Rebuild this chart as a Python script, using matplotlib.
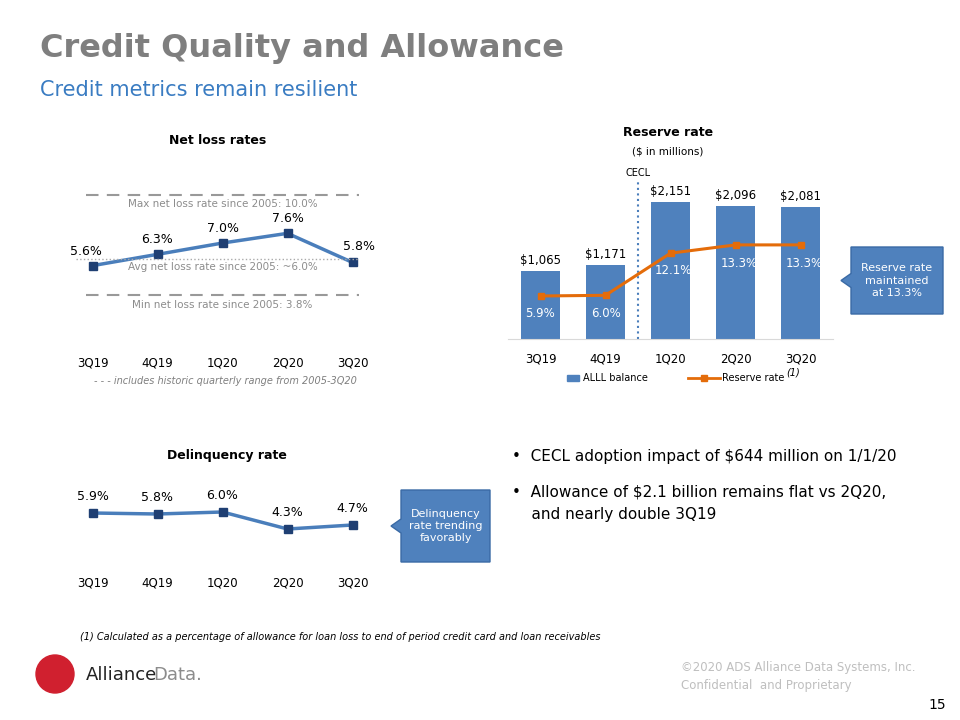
import matplotlib
matplotlib.use("Agg")
import matplotlib.pyplot as plt
from matplotlib.patches import Polygon, Ellipse

quarters = ["3Q19", "4Q19", "1Q20", "2Q20", "3Q20"]
net_loss = [5.6, 6.3, 7.0, 7.6, 5.8]
nl_max, nl_avg, nl_min = 10.0, 6.0, 3.8
alll = [1065, 1171, 2151, 2096, 2081]
reserve_rate = [5.9, 6.0, 12.1, 13.3, 13.3]
delinq = [5.9, 5.8, 6.0, 4.3, 4.7]

W, H = 960, 720
fig = plt.figure(figsize=(9.6, 7.2), dpi=100)
plt.rcParams['font.family'] = ['DejaVu Sans']

def ax_px(x0, y0, x1, y1):
    return fig.add_axes([x0 / W, 1 - y1 / H, (x1 - x0) / W, (y1 - y0) / H])

def ftxt(x, y, s, **kw):
    fig.text(x / W, 1 - y / H, s, **kw)

BLUE = "#4a7ebb"; DARK = "#1f3f73"; ORANGE = "#e46c0a"; BAR = "#4f81bd"

ftxt(40, 48, "Credit Quality and Allowance", fontsize=23, weight="bold", color="#7f7f7f", va="center")
ftxt(40, 90, "Credit metrics remain resilient", fontsize=15, color="#3a7cc2", va="center")

# Net loss
ax = ax_px(60, 180, 385, 340)
x = range(5)
ax.plot(x, net_loss, color=BLUE, lw=2.5, marker="s", ms=6, mfc=DARK, mec=DARK)
ax.axhline(nl_max, xmin=0.08, xmax=0.92, color="#999999", ls=(0, (6, 4)), lw=1.5)
ax.axhline(nl_min, xmin=0.08, xmax=0.92, color="#999999", ls=(0, (6, 4)), lw=1.5)
ax.axhline(nl_avg, xmin=0.05, xmax=0.92, color="#aaaaaa", ls=":", lw=1)
ax.text(2, nl_max - 0.3, "Max net loss rate since 2005: 10.0%", ha="center", va="top", fontsize=7.5, color="#8c8c8c")
ax.text(2, nl_avg - 0.15, "Avg net loss rate since 2005: ~6.0%", ha="center", va="top", fontsize=7.5, color="#8c8c8c")
ax.text(2, nl_min - 0.3, "Min net loss rate since 2005: 3.8%", ha="center", va="top", fontsize=7.5, color="#8c8c8c")
offs = [(-0.1, 0.5), (0, 0.5), (0, 0.5), (0, 0.5), (0.1, 0.6)]
for i, v in enumerate(net_loss):
    ax.text(i + offs[i][0], v + offs[i][1], f"{v:.1f}%", ha="center", va="bottom", fontsize=9)
ax.set_xlim(-0.5, 4.5); ax.set_ylim(1.0, 10.9)
ax.set_xticks(list(x)); ax.set_xticklabels(quarters, fontsize=8.5)
ax.tick_params(length=0, pad=12); ax.set_yticks([])
for s in ax.spines.values(): s.set_visible(False)
ftxt(218, 140, "Net loss rates", fontsize=9, weight="bold", ha="center", va="center")
ftxt(225, 381, "- - - includes historic quarterly range from 2005-3Q20", fontsize=7, style="italic", color="#7f7f7f", ha="center", va="center")

# Reserve
ax = ax_px(508, 180, 833, 339)
ax.bar(x, alll, width=0.6, color=BAR)
for i, v in enumerate(alll):
    ax.text(i, v + 60, f"${v:,}", ha="center", va="bottom", fontsize=8.5)
ax.set_ylim(0, 2500); ax.set_xlim(-0.5, 4.5)
ax.set_xticks(list(x)); ax.set_xticklabels(quarters, fontsize=8.5)
ax.tick_params(length=0, pad=10); ax.set_yticks([])
for s in ["top", "left", "right"]: ax.spines[s].set_visible(False)
ax.spines["bottom"].set_color("#d9d9d9")
ax.axvline(1.5, color="#4a7ebb", ls=":", lw=1.5)
ax.text(1.5, 2530, "CECL", ha="center", va="bottom", fontsize=7)
ax2 = ax.twinx()
ax2.plot(x, reserve_rate, color=ORANGE, lw=2.2, marker="s", ms=5)
ax2.set_ylim(-0.33, 22.7); ax2.set_yticks([])
for s in ax2.spines.values(): s.set_visible(False)
rr_off = [-2.6, -2.6, -2.5, -2.7, -2.7]
for i, v in enumerate(reserve_rate):
    ax2.text(i + (0.05 if i > 1 else 0), v + rr_off[i], f"{v:.1f}%", ha="center", va="center", fontsize=8.5, color="white")
ftxt(668, 133, "Reserve rate", fontsize=9, weight="bold", ha="center", va="center")
ftxt(668, 151, "($ in millions)", fontsize=7.5, ha="center", va="center")
fig.patches.append(plt.Rectangle((567 / W, 1 - 381 / H), 12 / W, 6 / H, color=BAR, transform=fig.transFigure))
ftxt(583, 378, "ALLL balance", fontsize=7, va="center")
fig.lines.append(plt.Line2D([688 / W, 704 / W, 720 / W], [1 - 378 / H] * 3, color=ORANGE, lw=2, marker="s", ms=4,
                            markevery=[1], transform=fig.transFigure))
ftxt(722, 378, "Reserve rate", fontsize=7, va="center")
ftxt(786, 372, "(1)", fontsize=7, style="italic", va="center")

# callouts
def callout(x0, y0, x1, y1, text):
    ym = (y0 + y1) / 2
    pts = [(x0, y0), (x1, y0), (x1, y1), (x0, y1), (x0, ym + 7), (x0 - 10, ym), (x0, ym - 7)]
    poly = Polygon([(px / W, 1 - py / H) for px, py in pts], closed=True, transform=fig.transFigure,
                   facecolor="#4f81bd", edgecolor="#3a6aa5", lw=1)
    fig.patches.append(poly)
    ftxt((x0 + x1) / 2, ym, text, fontsize=8, color="white", ha="center", va="center", linespacing=1.3)
callout(851, 247, 943, 314, "Reserve rate\nmaintained\nat 13.3%")
callout(401, 490, 490, 562, "Delinquency\nrate trending\nfavorably")

# Delinquency
ax = ax_px(60, 470, 385, 560)
ax.plot(x, delinq, color=BLUE, lw=2.5, marker="s", ms=6, mfc=DARK, mec=DARK)
for i, v in enumerate(delinq):
    ax.text(i, v + 1.0, f"{v:.1f}%", ha="center", va="bottom", fontsize=9)
ax.set_xlim(-0.5, 4.5); ax.set_ylim(1.2, 10.2)
ax.set_xticks(list(x)); ax.set_xticklabels(quarters, fontsize=8.5)
ax.tick_params(length=0, pad=12); ax.set_yticks([])
for s in ax.spines.values(): s.set_visible(False)
ftxt(227, 456, "Delinquency rate", fontsize=9, weight="bold", ha="center", va="center")

ftxt(512, 456, "•  CECL adoption impact of $644 million on 1/1/20", fontsize=11, va="center")
ftxt(512, 492, "•  Allowance of $2.1 billion remains flat vs 2Q20,", fontsize=11, va="center")
ftxt(512, 514, "    and nearly double 3Q19", fontsize=11, va="center")

ftxt(80, 637, "(1) Calculated as a percentage of allowance for loan loss to end of period credit card and loan receivables",
     fontsize=7, style="italic", va="center")

# logo
fig.patches.append(Ellipse((55 / W, 1 - 674 / H), 38 / W, 38 / H, transform=fig.transFigure, color="#d0202f"))
ftxt(86, 675, "Alliance", fontsize=13, color="#222222", va="center")
ftxt(153, 675, "Data.", fontsize=13, color="#8c8c8c", va="center")
ftxt(681, 667, "©2020 ADS Alliance Data Systems, Inc.", fontsize=8.5, color="#bfbfbf", va="center")
ftxt(681, 685, "Confidential  and Proprietary", fontsize=8.5, color="#bfbfbf", va="center")
ftxt(946, 705, "15", fontsize=10, ha="right", va="center")

fig.savefig("out.png", dpi=100)
